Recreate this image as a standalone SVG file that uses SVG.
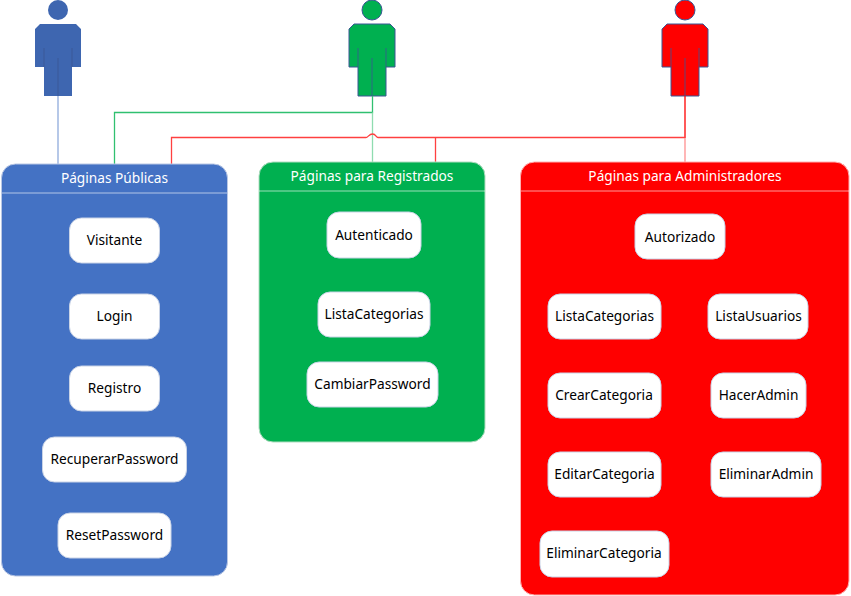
<svg xmlns="http://www.w3.org/2000/svg" width="851" height="596" viewBox="0 0 851 596">
<defs>
<style>
text{font-family:"Noto Sans","Open Sans","Liberation Sans",sans-serif}
.t{font-size:13.7px;fill:#fff;text-anchor:middle}
.n{font-size:13.7px;fill:#000;text-anchor:middle}
.b{fill:#fff;stroke:#c9d3e6;stroke-width:1}
.d{stroke:#fff;stroke-opacity:.6;stroke-width:1;fill:none}
.c{fill:none;stroke-width:1.3}
.l{fill:none;stroke:#3a5694;stroke-width:1;stroke-opacity:.8}
</style>
<g id="person">
<circle cx="0" cy="10" r="10"/>
<path d="M-18 24H18L23 29V67H14V96H-14V67H-23V29Z"/>
<path class="l" d="M-14 48V67M14 48V67M0 58V96"/>
</g>
</defs>
<rect width="851" height="596" fill="#fff"/>
<g id="actor-publico" fill="#3e66b0"><use href="#person" x="58"/></g>
<g id="actor-registrado" fill="#00b050" stroke="#3a5694" stroke-width="1"><use href="#person" x="372"/></g>
<g id="actor-admin" fill="#f00" stroke="#3a5694" stroke-width="1"><use href="#person" x="685"/></g>
<g id="connectors">
<path class="c" stroke="#8fabdc" d="M58 96V164"/>
<path class="c" stroke="#30c070" d="M372.500 96V112.500H114.500V164"/>
<path class="c" stroke="#8fdcb0" d="M372.500 112.500V162"/>
<path class="c" stroke="#f00" stroke-width="1.600" d="M685 96V138"/>
<path class="c" stroke="#ff4040" d="M685 137.500H378C376 137.500 376 134 372.500 134C369 134 368 137.500 366 137.500H171.500V164"/>
<path class="c" stroke="#ff4040" d="M435.500 137.500V162"/>
<path class="c" stroke="#ff9090" d="M685 138V162"/>
</g>
<g id="paginas-publicas">
<rect x="1.500" y="164" width="226" height="412" rx="14" fill="#4472c4" stroke="#b9c7e4"/>
<path class="d" d="M2 193H227"/>
<text class="t" x="114.500" y="183">Páginas Públicas</text>
</g>
<g id="paginas-registrados">
<rect x="259" y="162" width="226" height="280" rx="14" fill="#00b050" stroke="#b0dcc0"/>
<path class="d" d="M259 191H485"/>
<text class="t" x="372" y="181">Páginas para Registrados</text>
</g>
<g id="paginas-admin">
<rect x="520.500" y="162" width="328.500" height="433" rx="14" fill="#f00" stroke="#ffb0b0"/>
<path class="d" d="M521 191H849"/>
<text class="t" x="685" y="181">Páginas para Administradores</text>
</g>
<g id="visitante"><rect class="b" x="69.500" y="218" width="90" height="45" rx="12"/><text class="n" x="114.500" y="245">Visitante</text></g>
<g id="login"><rect class="b" x="69.500" y="294" width="90" height="45" rx="12"/><text class="n" x="114.500" y="321">Login</text></g>
<g id="registro"><rect class="b" x="69.500" y="366" width="90" height="45" rx="12"/><text class="n" x="114.500" y="393">Registro</text></g>
<g id="recuperar"><rect class="b" x="42.500" y="437" width="144" height="45" rx="12"/><text class="n" x="114.500" y="464">RecuperarPassword</text></g>
<g id="reset"><rect class="b" x="58" y="513" width="113" height="45" rx="12"/><text class="n" x="114.500" y="540">ResetPassword</text></g>
<g id="autenticado"><rect class="b" x="327" y="212" width="94" height="46" rx="12"/><text class="n" x="374" y="240">Autenticado</text></g>
<g id="lista-reg"><rect class="b" x="318" y="292" width="112" height="45" rx="12"/><text class="n" x="374" y="319">ListaCategorias</text></g>
<g id="cambiar"><rect class="b" x="307" y="362" width="131" height="45" rx="12"/><text class="n" x="372.500" y="389">CambiarPassword</text></g>
<g id="autorizado"><rect class="b" x="635" y="214" width="90" height="45" rx="12"/><text class="n" x="680" y="242">Autorizado</text></g>
<g id="lista-adm"><rect class="b" x="548" y="294" width="113" height="45" rx="12"/><text class="n" x="604.500" y="321">ListaCategorias</text></g>
<g id="lista-usu"><rect class="b" x="708" y="294" width="100" height="45" rx="12"/><text class="n" x="758.500" y="321">ListaUsuarios</text></g>
<g id="crear"><rect class="b" x="548" y="373" width="113" height="45" rx="12"/><text class="n" x="604" y="400">CrearCategoria</text></g>
<g id="hacer"><rect class="b" x="711" y="373" width="95" height="45" rx="12"/><text class="n" x="758.500" y="400">HacerAdmin</text></g>
<g id="editar"><rect class="b" x="548" y="452" width="113" height="45" rx="12"/><text class="n" x="604.500" y="479">EditarCategoria</text></g>
<g id="eliminar-adm"><rect class="b" x="711" y="452" width="110" height="45" rx="12"/><text class="n" x="766" y="479">EliminarAdmin</text></g>
<g id="eliminar-cat"><rect class="b" x="540" y="531" width="129" height="46" rx="12"/><text class="n" x="604" y="558">EliminarCategoria</text></g>
</svg>
